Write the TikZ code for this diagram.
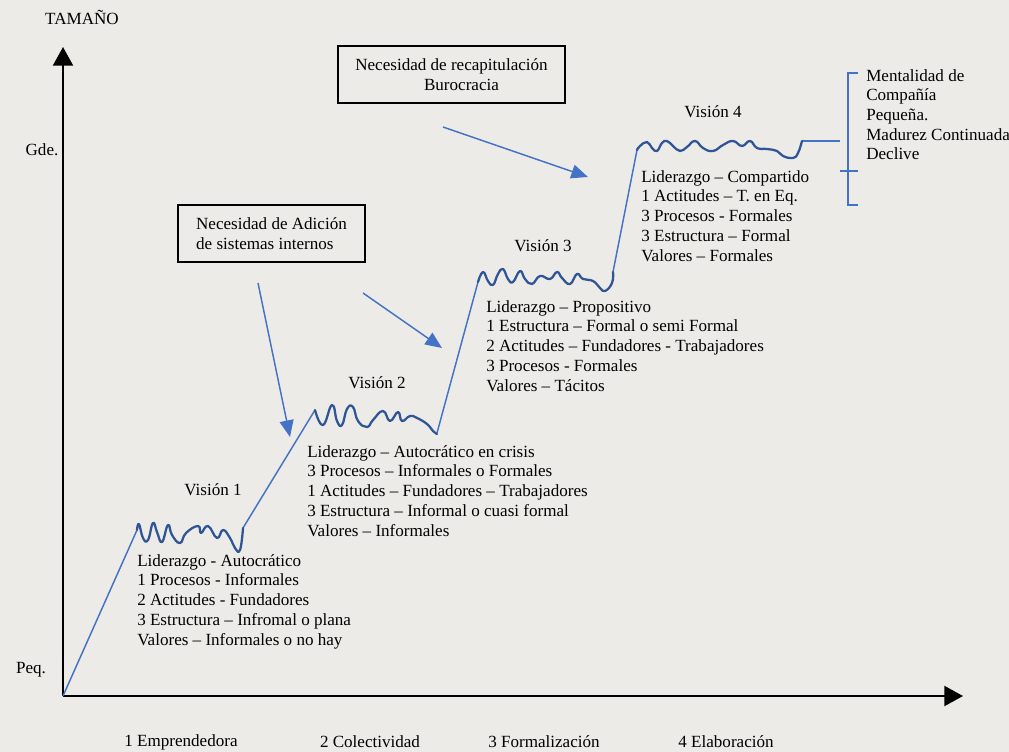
\documentclass[tikz,border=0pt]{standalone}
\usepackage{fontspec}
\setmainfont{Liberation Serif}
\usetikzlibrary{arrows.meta,calc}
\definecolor{paper}{HTML}{EDEBE8}
\definecolor{lineblue}{HTML}{4472C4}
\definecolor{wavyblue}{HTML}{2F5597}
\tikzset{
  axis/.style={draw=black, line width=1.5pt, -{Triangle[length=14pt,width=15pt]}},
  rise/.style={draw=lineblue, line width=1.1pt},
  wavy/.style={draw=wavyblue, line width=1.7pt, line join=round, line cap=round},
  push/.style={draw=lineblue, line width=1.1pt, -{Triangle[length=12.5pt,width=10.5pt]}},
  bracket/.style={draw=lineblue, line width=1.1pt},
  txt/.style={black, font=\fontsize{12.8}{14.8}\selectfont, inner sep=0pt},
  block/.style={txt, align=left, anchor=base west},
  needbox/.style={txt, draw=black, line width=1.2pt, minimum height=43pt}
}

\begin{document}
\begin{tikzpicture}[x=0.75pt,y=-0.75pt]
  \fill[paper] (0,0) rectangle (1009,752);
  \useasboundingbox (0,0) rectangle (1009,752);

  % Axes
  \coordinate (O) at (63,696);
  \coordinate (ytop) at (63,47);
  \coordinate (xend) at (963,696);
  \draw[axis] (O) -- (ytop);
  \draw[axis] (O) -- (xend);
  \node[txt] (tam) at (82,17) {TAMAÑO};
  \node[txt] (gde) at (42,150) {Gde.};
  \node[txt] (peq) at (31,670) {Peq.};

  % Stages
  \node[txt] (st1) at (181,742) {1 Emprendedora};
  \node[txt] (st2) at (370,742) {2 Colectividad};
  \node[txt] (st3) at (544,742) {3 Formalización};
  \node[txt] (st4) at (726,742) {4 Elaboración};

  % Growth curve
  \coordinate (p1) at (137,530); \coordinate (d1) at (243,528);
  \coordinate (p2) at (315,410); \coordinate (d2) at (437,433);
  \coordinate (p3) at (478,282); \coordinate (d3) at (613,272);
  \coordinate (p4) at (637,150); \coordinate (d4) at (802,141);
  \coordinate (e4) at (840,141);
  \draw[rise] (O) -- (p1);
  \draw[rise] (d1) -- (p2);
  \draw[rise] (d2) -- (p3);
  \draw[rise] (d3) -- (p4);
  \draw[rise] (d4) -- (e4);
  \draw[wavy] plot[smooth, tension=0.8] coordinates {(137,530) (139,524) (143,538) (148,540) (153,523) (157,532) (162,542) (168,525) (172,535) (180,543) (186,533) (198,526) (201,533) (208,526) (217,538) (223,530) (230,538) (235,548) (240,550) (243,528)};
  \draw[wavy] plot[smooth, tension=0.8] coordinates {(315,410) (323,425) (332,405) (337,421) (342,425) (347,409) (353,407) (358,421) (367,427) (373,420) (383,411) (390,421) (398,412) (402,421) (410,416) (417,418) (427,424) (433,431) (437,434)};
  \draw[wavy] plot[smooth, tension=0.8] coordinates {(478,282) (483,272) (488,281) (493,285) (498,274) (503,269) (508,279) (513,282) (520,271) (525,279) (532,284) (540,276) (550,279) (557,272) (562,278) (570,284) (577,274) (583,279) (593,281) (600,288) (605,291) (612,283) (613,272)};
  \draw[wavy] plot[smooth, tension=0.8] coordinates {(637,150) (640,146) (647,142) (652,148) (657,151) (662,143) (667,141) (673,146) (680,151) (687,147) (695,141) (703,148) (713,151) (723,145) (733,141) (742,146) (750,141) (757,148) (767,149) (777,151) (783,156) (793,158) (798,153) (802,141)};

  % Visions
  \node[txt] (v1) at (213,490) {Visión 1};
  \node[txt] (v2) at (377,383) {Visión 2};
  \node[txt] (v3) at (543,246) {Visión 3};
  \node[txt] (v4) at (713,112) {Visión 4};

  \node[block] (b1) at (137,645) {Liderazgo - Autocrático\\1 Procesos - Informales\\2 Actitudes - Fundadores\\3 Estructura -- Infromal o plana\\Valores -- Informales o no hay};
  \node[block] (b2) at (307,536) {Liderazgo -- Autocrático en crisis\\3 Procesos -- Informales o Formales\\1 Actitudes -- Fundadores -- Trabajadores\\3 Estructura -- Informal o cuasi formal\\Valores -- Informales};
  \node[block] (b3) at (486,391) {Liderazgo -- Propositivo\\1 Estructura -- Formal o semi Formal\\2 Actitudes -- Fundadores - Trabajadores\\3 Procesos - Formales\\Valores -- Tácitos};
  \node[block] (b4) at (641,261) {Liderazgo -- Compartido\\1 Actitudes -- T. en Eq.\\3 Procesos - Formales\\3 Estructura -- Formal\\Valores -- Formales};

  % Outcome bracket
  \draw[bracket] (858,73) -- (848,73) -- (848,205) -- (858,205);
  \draw[bracket] (840,171) -- (858,171);
  \node[block] (fin) at (866,160) {Mentalidad de\\Compañía\\Pequeña.\\Madurez Continuada\\Declive};

  % Needs
  \node[needbox, minimum width=140pt, align=left] (need1) at (271.5,233.5) {Necesidad de Adición\\de sistemas internos};
  \node[needbox, minimum width=170pt, align=center] (need2) at (451.5,74.5) {Necesidad de recapitulación\\\hspace*{15pt}Burocracia};
  \coordinate (a1s) at (258,283); \coordinate (a1e) at (290,437);
  \coordinate (a2s) at (363,293); \coordinate (a2e) at (442,348);
  \coordinate (a3s) at (443,127); \coordinate (a3e) at (588,177);
  \draw[push] (a1s) -- (a1e);
  \draw[push] (a2s) -- (a2e);
  \draw[push] (a3s) -- (a3e);
\end{tikzpicture}
\end{document}
